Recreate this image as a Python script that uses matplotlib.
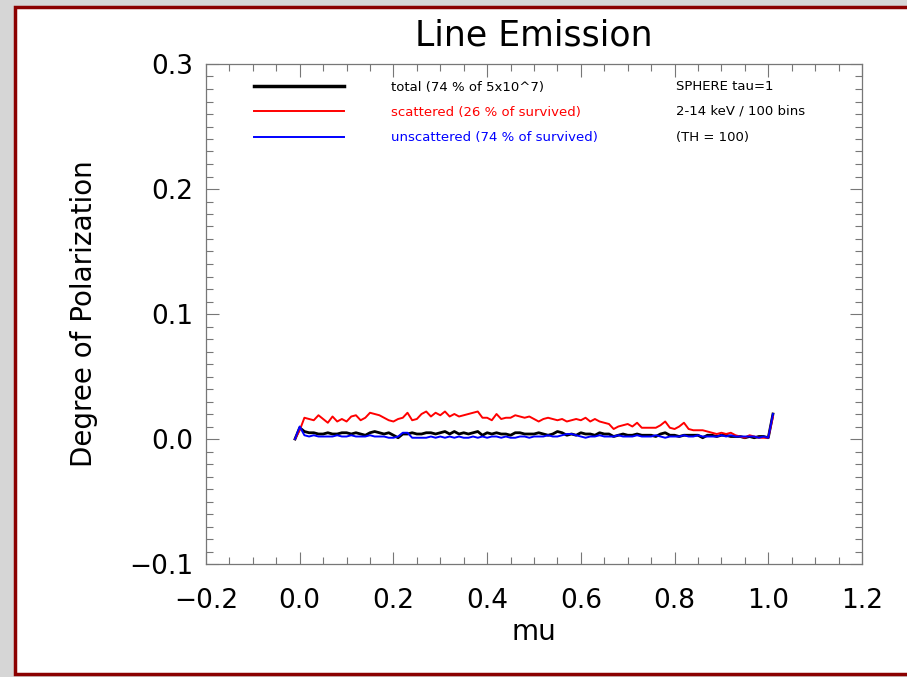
import matplotlib
matplotlib.use('Agg')
import matplotlib.pyplot as plt
from matplotlib.patches import Rectangle
from matplotlib.ticker import MultipleLocator
import numpy as np

# bins in mu: -0.01, 0.00, 0.01, ... 1.00, 1.01
mu = np.round(np.arange(-1, 102) * 0.01, 2)

# degree of polarization, in units of 1e-3
total = [0,
         9, 6, 5, 5, 4, 4, 5, 4, 4, 5,
         5, 4, 5, 4, 3, 5, 6, 5, 4, 5,
         3, 1, 4, 4, 5, 4, 4, 5, 5, 4,
         5, 6, 4, 6, 4, 5, 4, 5, 6, 3,
         5, 4, 5, 4, 4, 3, 5, 5, 4, 4,
         4, 5, 4, 3, 4, 6, 5, 3, 4, 3,
         5, 4, 4, 3, 5, 4, 4, 2, 3, 4,
         3, 3, 4, 3, 3, 3, 2, 4, 5, 3,
         3, 2, 3, 3, 3, 3, 1, 3, 3, 2,
         3, 3, 2, 2, 2, 1, 2, 1, 2, 2,
         1, 20]
scattered = [0,
             7, 17, 16, 15, 19, 16, 13, 18, 14, 16,
             14, 18, 19, 15, 17, 21, 20, 19, 17, 15,
             14, 16, 17, 21, 15, 16, 20, 22, 18, 21,
             19, 22, 18, 20, 18, 19, 20, 21, 22, 17,
             17, 15, 20, 16, 17, 17, 19, 18, 17, 18,
             16, 14, 16, 17, 16, 15, 16, 14, 15, 16,
             15, 17, 14, 16, 14, 13, 12, 8, 10, 11,
             12, 10, 13, 9, 9, 9, 9, 11, 14, 9,
             8, 10, 13, 8, 7, 7, 7, 6, 5, 4,
             5, 4, 5, 3, 2, 1, 3, 2, 1, 1,
             1, 18]
unscattered = [0,
               10, 3, 2, 3, 2, 2, 2, 2, 3, 2,
               2, 3, 2, 2, 2, 3, 2, 2, 2, 1,
               1, 2, 5, 5, 1, 1, 1, 1, 2, 1,
               2, 1, 2, 1, 2, 1, 1, 2, 1, 2,
               1, 2, 2, 1, 2, 1, 1, 2, 2, 1,
               2, 2, 2, 3, 2, 2, 3, 4, 4, 3,
               2, 1, 2, 2, 3, 2, 2, 2, 3, 2,
               2, 2, 3, 2, 2, 2, 3, 2, 1, 2,
               2, 2, 3, 2, 2, 3, 2, 2, 2, 2,
               3, 2, 3, 2, 2, 2, 2, 2, 1, 2,
               1, 20]

labels = ['total (74 % of 5x10^7)',
          'scattered (26 % of survived)',
          'unscattered (74 % of survived)']
notes = ['SPHERE tau=1', '2-14 keV / 100 bins', '(TH = 100)']

fig = plt.figure(figsize=(9.07, 6.77), dpi=100)
fig.patch.set_facecolor('#d6d6d6')
# slide frame, kept behind the axes
frame = Rectangle((14.5 / 907, 3 / 677), 1.0, 667 / 677,
                  transform=fig.transFigure, facecolor='white',
                  edgecolor='#8b0000', linewidth=2.5, zorder=-5)
fig.patches.append(frame)

ax = fig.add_axes([206 / 907, 1 - 564 / 677, 656 / 907, 500 / 677])
ax.set_zorder(2)
ax.set_facecolor('none')

l1, = ax.plot(mu, np.array(total) / 1000, color='black', lw=2.0)
l2, = ax.plot(mu, np.array(scattered) / 1000, color='#ff0000', lw=1.4)
l3, = ax.plot(mu, np.array(unscattered) / 1000, color='#0000ff', lw=1.4)

ax.set_xlim(-0.2, 1.2)
ax.set_ylim(-0.1, 0.3)
ax.xaxis.set_major_locator(MultipleLocator(0.2))
ax.xaxis.set_minor_locator(MultipleLocator(0.05))
ax.yaxis.set_major_locator(MultipleLocator(0.1))
ax.yaxis.set_minor_locator(MultipleLocator(0.01))
ax.tick_params(which='both', direction='in', top=True, right=True,
               color='#777777', width=0.8)
ax.tick_params(which='major', length=9, labelsize=19)
ax.tick_params(which='minor', length=5)
ax.tick_params(axis='x', which='major', pad=17)
ax.tick_params(axis='y', which='major', pad=9)
for s in ax.spines.values():
    s.set_color('#777777')
    s.set_linewidth(0.9)

ax.set_title('Line Emission', fontsize=25, pad=13)
ax.set_xlabel('mu', fontsize=20)
ax.set_ylabel('Degree of Polarization', fontsize=20)
ax.xaxis.set_label_coords(0.5, -0.108)
ax.yaxis.set_label_coords(-0.165, 0.5)

leg = ax.legend([l1, l2, l3], labels, loc='upper left',
                bbox_to_anchor=(0.055, 0.99), frameon=False, fontsize=9.5,
                handlelength=6.8, handletextpad=3.6, labelspacing=0.92)
for txt, c in zip(leg.get_texts(), ['black', '#ff0000', '#0000ff']):
    txt.set_color(c)
leg.get_lines()[0].set_linewidth(2.5)

for i, n in enumerate(notes):
    ax.text(0.7165, 0.956 - i * 0.051, n, transform=ax.transAxes,
            fontsize=9.5, va='center', ha='left')

fig.savefig('out.png', dpi=100, facecolor=fig.get_facecolor())
